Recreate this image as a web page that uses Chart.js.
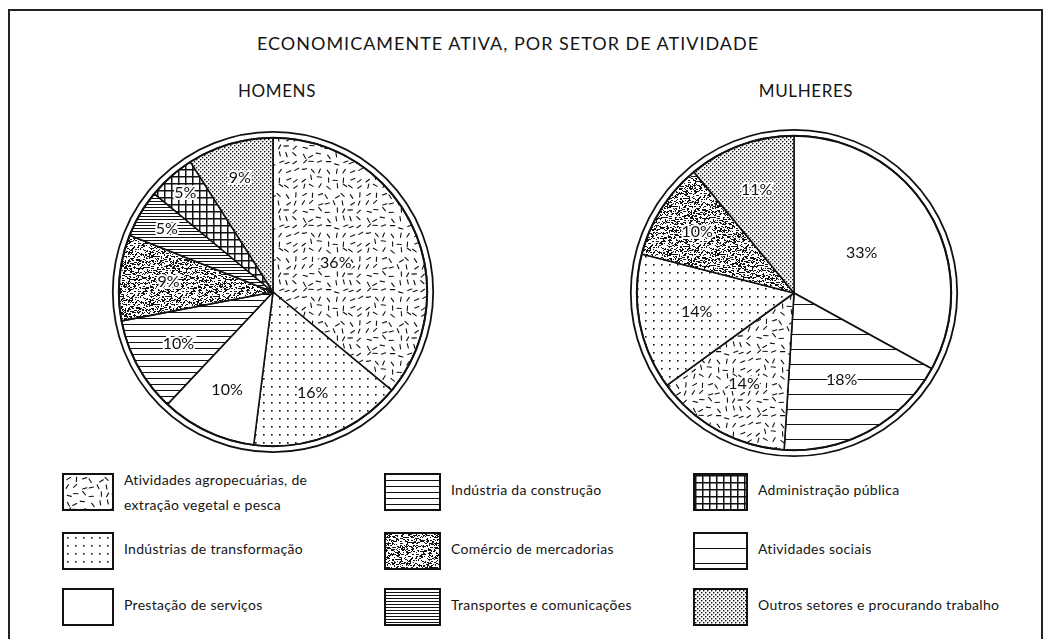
<!DOCTYPE html>
<html>
<head>
<meta charset="utf-8">
<script src="https://cdn.jsdelivr.net/npm/chart.js@4.4.0/dist/chart.umd.min.js"></script>
<style>
  body { margin: 0; width: 1045px; height: 639px; background: #fff; overflow: hidden; position: relative;
         font-family: Lato, "DejaVu Sans", sans-serif; color: #151515; }
  .frame { position: absolute; left: 8px; top: 9px; width: 1031px; height: 700px; border: 2px solid #222; }
  .title { position: absolute; top: 32px; left: 0; width: 1016px; text-align: center; font-size: 18px; letter-spacing: 1px; }
  .sub { position: absolute; top: 80px; font-size: 17px; transform: translateX(-50%); letter-spacing: 0.6px; }
  .pie { position: absolute; }
  .item { position: absolute; height: 34px; }
  .item canvas { position: absolute; left: 0; top: 0; border: 2px solid #111; box-sizing: border-box; }
  .item span { position: absolute; font-size: 14px; white-space: nowrap; line-height: 25px; letter-spacing: 0.3px; }
</style>
</head>
<body>
<div class="frame"></div>
<div class="title">ECONOMICAMENTE ATIVA, POR SETOR DE ATIVIDADE</div>
<div class="sub" style="left:277px">HOMENS</div>
<div class="sub" style="left:806px">MULHERES</div>
<canvas id="homens" class="pie" width="330" height="330" style="left:108px;top:127px"></canvas>
<canvas id="mulheres" class="pie" width="336" height="336" style="left:626px;top:125px"></canvas>
<div id="legend"></div>

<script>
// Setores (ordem da legenda, por colunas)
const categories = [
  "Atividades agropecuárias, de\nextração vegetal e pesca",
  "Indústrias de transformação",
  "Prestação de serviços",
  "Indústria da construção",
  "Comércio de mercadorias",
  "Transportes e comunicações",
  "Administração pública",
  "Atividades sociais",
  "Outros setores e procurando trabalho"
];
const patternKeys = ["agro", "industria", "servicos", "construcao", "comercio", "transportes", "administracao", "sociais", "outros"];

// Homens (sentido horário a partir do topo)
const homensSetores = ["agro", "industria", "servicos", "construcao", "comercio", "transportes", "administracao", "outros"];
const homensValores = [36, 16, 10, 10, 9, 5, 5, 9];

// Mulheres
const mulheresSetores = ["servicos", "sociais", "agro", "industria", "comercio", "outros"];
const mulheresValores = [33, 18, 14, 14, 10, 11];

// distancia do rotulo ao centro (fração do raio)
const homensRotuloRaio = [0.45, 0.7, 0.7, 0.7, 0.68, 0.8, 0.86, 0.77];
const mulheresRotuloRaio = [0.5, 0.63, 0.66, 0.63, 0.73, 0.7];

// texturas
function rng(seed) {
  let s = seed;
  return function () {
    s = (s * 1103515245 + 12345) & 0x7fffffff;
    return s / 0x7fffffff;
  };
}

function tile(w, h, draw) {
  let c = document.createElement("canvas");
  c.width = w;
  c.height = h;
  let ctx = c.getContext("2d");
  ctx.fillStyle = "#fff";
  ctx.fillRect(0, 0, w, h);
  ctx.fillStyle = "#111";
  ctx.strokeStyle = "#111";
  draw(ctx);
  return c;
}

const tiles = {
  agro: tile(64, 64, function (ctx) {
    let r = rng(11);
    ctx.lineWidth = 1.1;
    ctx.lineCap = "round";
    for (let gx = 0; gx < 64; gx += 8) {
      for (let gy = 0; gy < 64; gy += 8) {
        let x = gx + 2 + r() * 4, y = gy + 2 + r() * 4, a = r() * Math.PI;
        ctx.beginPath();
        ctx.moveTo(x - 2.2 * Math.cos(a), y - 2.2 * Math.sin(a));
        ctx.lineTo(x + 2.2 * Math.cos(a), y + 2.2 * Math.sin(a));
        ctx.stroke();
      }
    }
  }),
  industria: tile(8, 8, function (ctx) {
    ctx.fillRect(3, 3, 1.6, 1.6);
  }),
  servicos: tile(4, 4, function () {}),
  construcao: tile(6, 6, function (ctx) {
    ctx.fillRect(0, 5, 6, 1.2);
  }),
  comercio: tile(48, 48, function (ctx) {
    let r = rng(31);
    for (let i = 0; i < 800; i++) {
      ctx.fillRect(Math.floor(r() * 48), Math.floor(r() * 48), r() < 0.3 ? 2 : 1, 1);
    }
  }),
  transportes: tile(3, 3, function (ctx) {
    ctx.fillRect(0, 2, 3, 1);
  }),
  administracao: tile(7, 7, function (ctx) {
    ctx.fillRect(0, 0, 7, 1.5);
    ctx.fillRect(0, 0, 1.5, 7);
  }),
  sociais: tile(15, 15, function (ctx) {
    ctx.fillRect(0, 14, 15, 1.3);
  }),
  outros: tile(4, 4, function (ctx) {
    ctx.fillRect(0, 0, 1.4, 1.4);
    ctx.fillRect(2, 2, 1.4, 1.4);
  })
};

function pattern(ctx, key) {
  if (key === "servicos") return "#fff";
  return ctx.createPattern(tiles[key], "repeat");
}

// aneis duplos e rotulos
const ringPlugin = {
  id: "ring",
  afterDatasetsDraw(chart) {
    let arcs = chart.getDatasetMeta(0).data;
    if (!arcs.length) return;
    let p = arcs[0].getProps(["x", "y", "outerRadius"], true);
    let ctx = chart.ctx;
    ctx.save();
    ctx.strokeStyle = "#111";
    ctx.lineWidth = 2;
    ctx.beginPath();
    ctx.arc(p.x, p.y, p.outerRadius, 0, Math.PI * 2);
    ctx.stroke();
    ctx.lineWidth = 1.8;
    ctx.beginPath();
    ctx.arc(p.x, p.y, p.outerRadius + 6, 0, Math.PI * 2);
    ctx.stroke();
    ctx.restore();
  }
};

const labelPlugin = {
  id: "pctLabels",
  afterDatasetsDraw(chart, args, opts) {
    let ctx = chart.ctx;
    let values = chart.data.datasets[0].data;
    ctx.save();
    ctx.font = "16px Lato, 'DejaVu Sans', sans-serif";
    ctx.textAlign = "center";
    ctx.textBaseline = "middle";
    chart.getDatasetMeta(0).data.forEach(function (arc, i) {
      let p = arc.getProps(["x", "y", "startAngle", "endAngle", "outerRadius"], true);
      let mid = (p.startAngle + p.endAngle) / 2;
      let r = p.outerRadius * opts.radius[i];
      let x = p.x + Math.cos(mid) * r, y = p.y + Math.sin(mid) * r;
      let txt = values[i] + "%";
      ctx.lineWidth = 4;
      ctx.strokeStyle = "#fff";
      ctx.strokeText(txt, x, y);
      ctx.fillStyle = "#111";
      ctx.fillText(txt, x, y);
    });
    ctx.restore();
  }
};

function makePie(id, setores, valores, raios) {
  let canvas = document.getElementById(id);
  let ctx = canvas.getContext("2d");
  new Chart(ctx, {
    type: "pie",
    data: {
      labels: setores.map(function (k) { return categories[patternKeys.indexOf(k)].replace("\n", " "); }),
      datasets: [{
        data: valores,
        backgroundColor: setores.map(function (k) { return pattern(ctx, k); }),
        borderColor: "#111",
        borderWidth: 1.6
      }]
    },
    options: {
      responsive: false,
      animation: false,
      layout: { padding: 10 },
      plugins: {
        legend: { display: false },
        tooltip: { enabled: false },
        pctLabels: { radius: raios }
      }
    },
    plugins: [ringPlugin, labelPlugin]
  });
}

makePie("homens", homensSetores, homensValores, homensRotuloRaio);
makePie("mulheres", mulheresSetores, mulheresValores, mulheresRotuloRaio);

// legenda
const colX = [62, 384, 693];
const rowY = [473, 532, 588];
const boxW = [48, 53, 51];
const legend = document.getElementById("legend");
categories.forEach(function (name, i) {
  let col = Math.floor(i / 3), row = i % 3;
  let item = document.createElement("div");
  item.className = "item";
  item.style.left = colX[col] + "px";
  item.style.top = rowY[row] + "px";
  let c = document.createElement("canvas");
  c.width = boxW[col];
  c.height = 34;
  let cx = c.getContext("2d");
  cx.fillStyle = pattern(cx, patternKeys[i]);
  cx.fillRect(0, 0, c.width, c.height);
  item.appendChild(c);
  let lines = name.split("\n");
  lines.forEach(function (t, j) {
    let s = document.createElement("span");
    s.textContent = t;
    s.style.left = (boxW[col] + 14) + "px";
    s.style.top = (lines.length > 1 ? -6 + j * 25 : 4) + "px";
    item.appendChild(s);
  });
  legend.appendChild(item);
});
</script>
</body>
</html>
